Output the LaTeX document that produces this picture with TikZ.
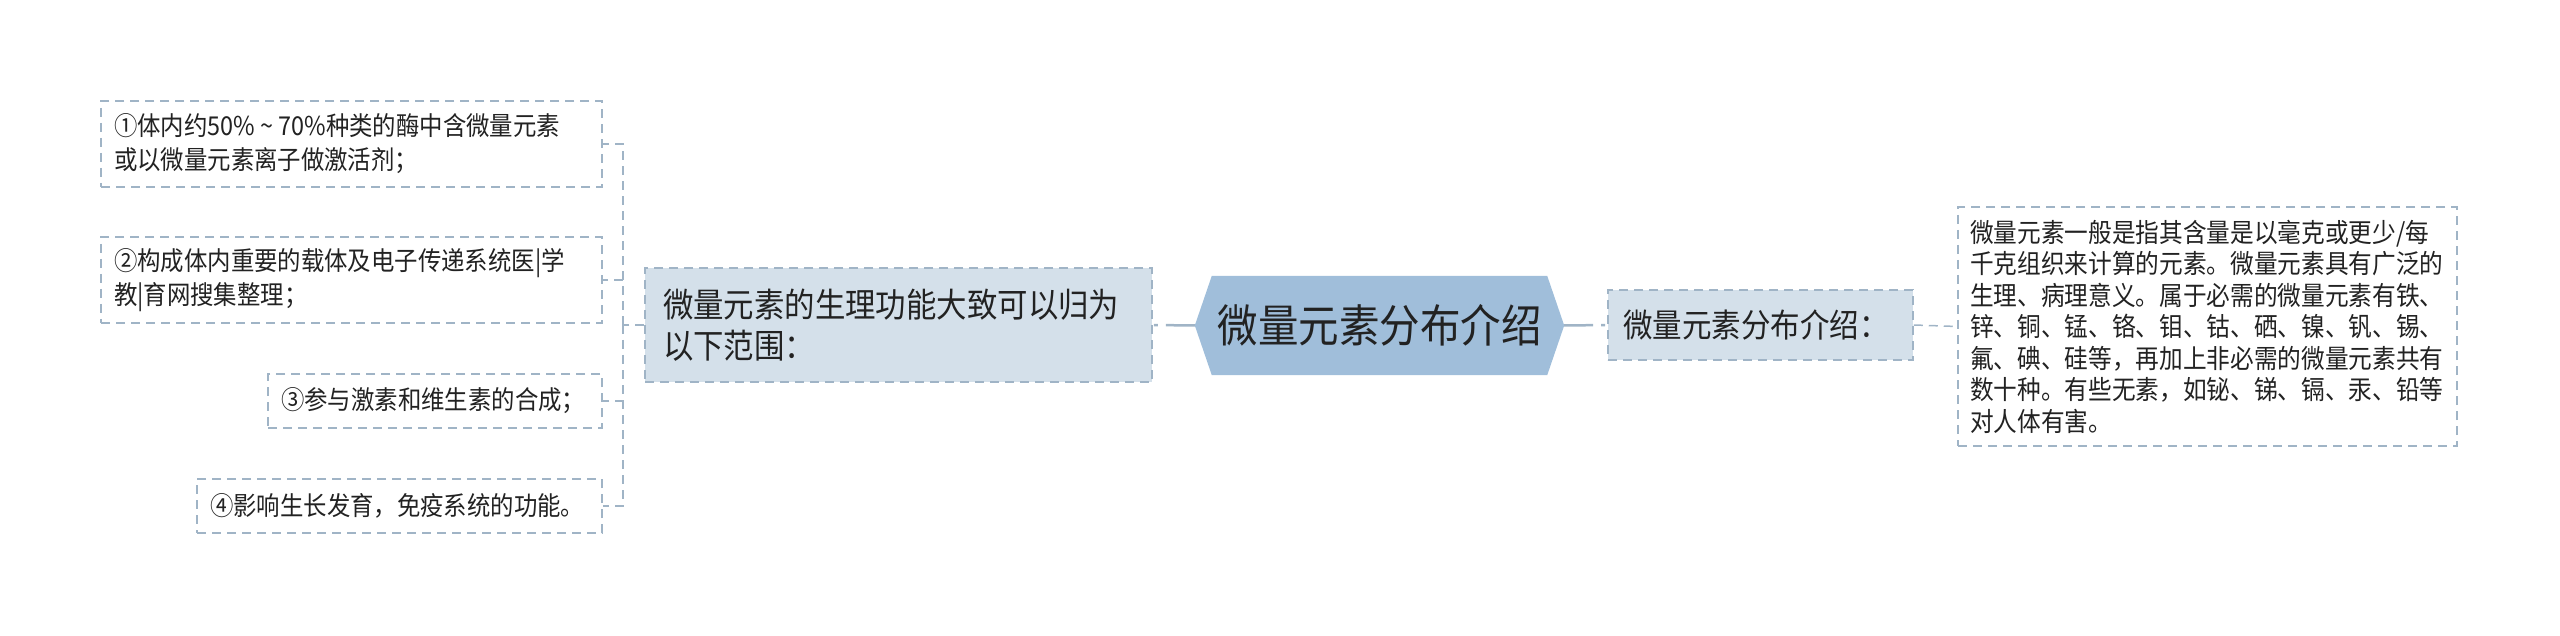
\documentclass[tikz,border=0pt]{standalone}
\usepackage{fontspec}
\newfontfamily\cjk[FakeStretch=0.9]{Noto Sans CJK SC}
\usetikzlibrary{backgrounds}
\definecolor{bordc}{HTML}{A0B4C6}
\definecolor{midfill}{HTML}{D4E0EA}
\definecolor{hexc}{HTML}{A0BEDA}
\definecolor{txtc}{HTML}{222222}
\newcommand{\smtilde}{\makebox[0.9em]{\symbol{"7E}}}
\tikzset{
  dashb/.style={line width=1.5pt, dash pattern=on 9pt off 6pt},
  leafbox/.style={draw=bordc, dashb, fill=white, rectangle, align=left, text=txtc,
    inner xsep=13pt, inner ysep=0pt, font=\cjk\fontsize{26pt}{34pt}\selectfont},
  midbox/.style={draw=bordc, dashb, fill=midfill, rectangle, align=left, text=txtc,
    inner ysep=0pt, font=\cjk\fontsize{33.8pt}{41pt}\selectfont},
  leafconn/.style={draw=bordc, dashb},
  rootconn/.style={draw=bordc, line width=2.5pt, dash pattern=on 29pt off 8pt on 4pt off 20pt},
}
\begin{document}
\begin{tikzpicture}[x=1pt,y=-1pt]
\useasboundingbox (0,0) rectangle (2560,636);
% leaves left
\node[leafbox, text width=475pt, minimum height=86pt] (b1) at (351.5,144)
  {①体内约50\%\smtilde 70\%种类的酶中含微量元素\\或以微量元素离子做激活剂；};
\node[leafbox, text width=475pt, minimum height=86pt] (b2) at (351.5,280)
  {②构成体内重要的载体及电子传递系统医|学\\教|育网搜集整理；};
\node[leafbox, text width=308pt, minimum height=54pt] (b3) at (435,401)
  {③参与激素和维生素的合成；};
\node[leafbox, text width=379pt, minimum height=54pt] (b4) at (399.5,506)
  {④影响生长发育，免疫系统的功能。};
% level 1
\node[midbox, inner xsep=18pt, text width=471pt, minimum height=114pt] (lm) at (898.5,325)
  {微量元素的生理功能大致可以归为\\以下范围：};
\node[midbox, inner xsep=15pt, font=\cjk\fontsize{32.8pt}{41pt}\selectfont, text width=275pt, minimum height=70pt] (rm) at (1760.5,325)
  {微量元素分布介绍：};
% root
\node[minimum width=369pt, minimum height=99pt, inner sep=0pt, text=txtc,
  font=\cjk\fontsize{45pt}{52pt}\selectfont] (root) at (1379.5,325.5) {微量元素分布介绍};
% right leaf
\node[leafbox, inner xsep=12pt, text width=475pt, minimum height=239pt,
  font=\cjk\fontsize{26.3pt}{31.5pt}\selectfont] (rl) at (2207.5,326.5)
  {微量元素一般是指其含量是以毫克或更少/每\\千克组织来计算的元素。微量元素具有广泛的\\生理、病理意义。属于必需的微量元素有铁、\\锌、铜、锰、铬、钼、钴、硒、镍、钒、锡、\\氟、碘、硅等，再加上非必需的微量元素共有\\数十种。有些无素，如铋、锑、镉、汞、铅等\\对人体有害。};
\coordinate (J) at (623,325);
\begin{scope}[on background layer]
  \fill[hexc] (root.west) -- ([xshift=17pt]root.north west) -- ([xshift=-17pt]root.north east)
    -- (root.east) -- ([xshift=-17pt]root.south east) -- ([xshift=17pt]root.south west) -- cycle;
  \draw[leafconn] (lm.west) -- (J);
  \draw[leafconn] (J) |- (b1.east);
  \draw[leafconn] (J) |- (b2.east);
  \draw[leafconn] (J) |- (b3.east);
  \draw[leafconn] (J) |- (b4.east);
  \draw[rootconn] (root.west) -- (lm.east);
  \draw[rootconn] (root.east) -- (rm.west);
  \draw[leafconn] (rm.east) -- (rl.west);
\end{scope}
\end{tikzpicture}
\end{document}
